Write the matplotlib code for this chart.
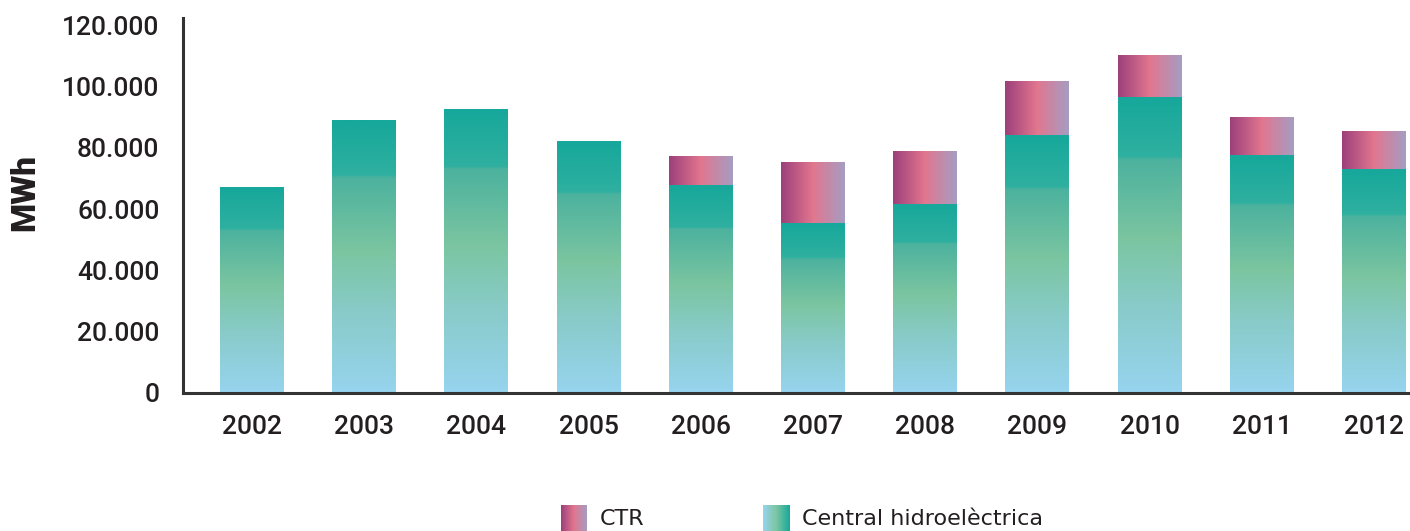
import matplotlib.pyplot as plt
import numpy as np
from matplotlib.colors import LinearSegmentedColormap

years = ['2002', '2003', '2004', '2005', '2006', '2007', '2008', '2009', '2010', '2011', '2012']
hidro = [67000, 89000, 92600, 82200, 67800, 55400, 61600, 84100, 96500, 77600, 73000]
ctr = [0, 0, 0, 0, 9200, 19900, 17000, 17300, 13400, 12100, 12100]
labels = ['CTR', 'Central hidroelèctrica']

# gradients
hidro_cmap = LinearSegmentedColormap.from_list('hidro', [
    (0.0, '#97d4ef'), (0.3, '#88cbc8'), (0.52, '#7bc5a1'),
    (0.79, '#4cb29e'), (0.80, '#2fb0a0'), (1.0, '#16a89b')])
ctr_cmap = LinearSegmentedColormap.from_list('ctr', [
    (0.0, '#9c3f7b'), (0.5, '#e2768f'), (1.0, '#a59dc2')])
legend_hidro_cmap = LinearSegmentedColormap.from_list('lh', ['#97d4ef', '#7bc5a1', '#16a89b'])

plt.rcParams['font.family'] = ['Roboto', 'DejaVu Sans']

fig = plt.figure(figsize=(14.1, 5.31), dpi=100)
ax = fig.add_axes([0.1298, 0.26, 0.8702, 0.706])

x = np.arange(len(years))
vert = np.linspace(0, 1, 256).reshape(-1, 1)
horiz = np.linspace(0, 1, 256).reshape(1, -1)

bars_h = ax.bar(x, hidro, width=0.57, color='none')
bars_c = ax.bar(x, ctr, width=0.57, bottom=hidro, color='none')

for b in bars_h:
    x0, y0 = b.get_x(), b.get_y()
    ax.imshow(vert, cmap=hidro_cmap, aspect='auto', origin='lower',
              extent=(x0, x0 + b.get_width(), y0, y0 + b.get_height()), zorder=2)
for b in bars_c:
    if b.get_height() <= 0:
        continue
    x0, y0 = b.get_x(), b.get_y()
    ax.imshow(horiz, cmap=ctr_cmap, aspect='auto', origin='lower',
              extent=(x0, x0 + b.get_width(), y0, y0 + b.get_height()), zorder=2)

ax.set_xlim(-0.615, 10.32)
ax.set_ylim(0, 122300)
ax.set_yticks(np.arange(0, 120001, 20000))
ax.set_yticklabels(['0' if v == 0 else f'{v // 1000}.000' for v in range(0, 120001, 20000)])
ax.set_xticks(x)
ax.set_xticklabels(years)
ax.tick_params(length=0, labelsize=19, colors='#231f20')
ax.tick_params(axis='y', pad=17)
ax.tick_params(axis='x', pad=16)
for lab in ax.get_xticklabels() + ax.get_yticklabels():
    lab.set_fontweight('medium')
for s in ['top', 'right']:
    ax.spines[s].set_visible(False)
for s in ['left', 'bottom']:
    ax.spines[s].set_linewidth(2.2)
    ax.spines[s].set_color('#333333')
ax.set_ylabel('MWh', fontsize=24, fontweight='black', color='#231f20', va='center')
ax.yaxis.set_label_coords(-0.1288, 0.535)

# legend at the bottom
sw1 = fig.add_axes([561 / 1410, 0, 25 / 1410, 26 / 531])
sw1.imshow(horiz, cmap=ctr_cmap, aspect='auto')
sw1.axis('off')
sw2 = fig.add_axes([763 / 1410, 0, 27 / 1410, 26 / 531])
sw2.imshow(horiz, cmap=legend_hidro_cmap, aspect='auto')
sw2.axis('off')
for xp, txt in zip([600, 802], labels):
    fig.text(xp / 1410, 1 - 519 / 531, txt, fontsize=16, va='center',
             color='#231f20', family='DejaVu Sans')

fig.savefig('out.png', dpi=100)
